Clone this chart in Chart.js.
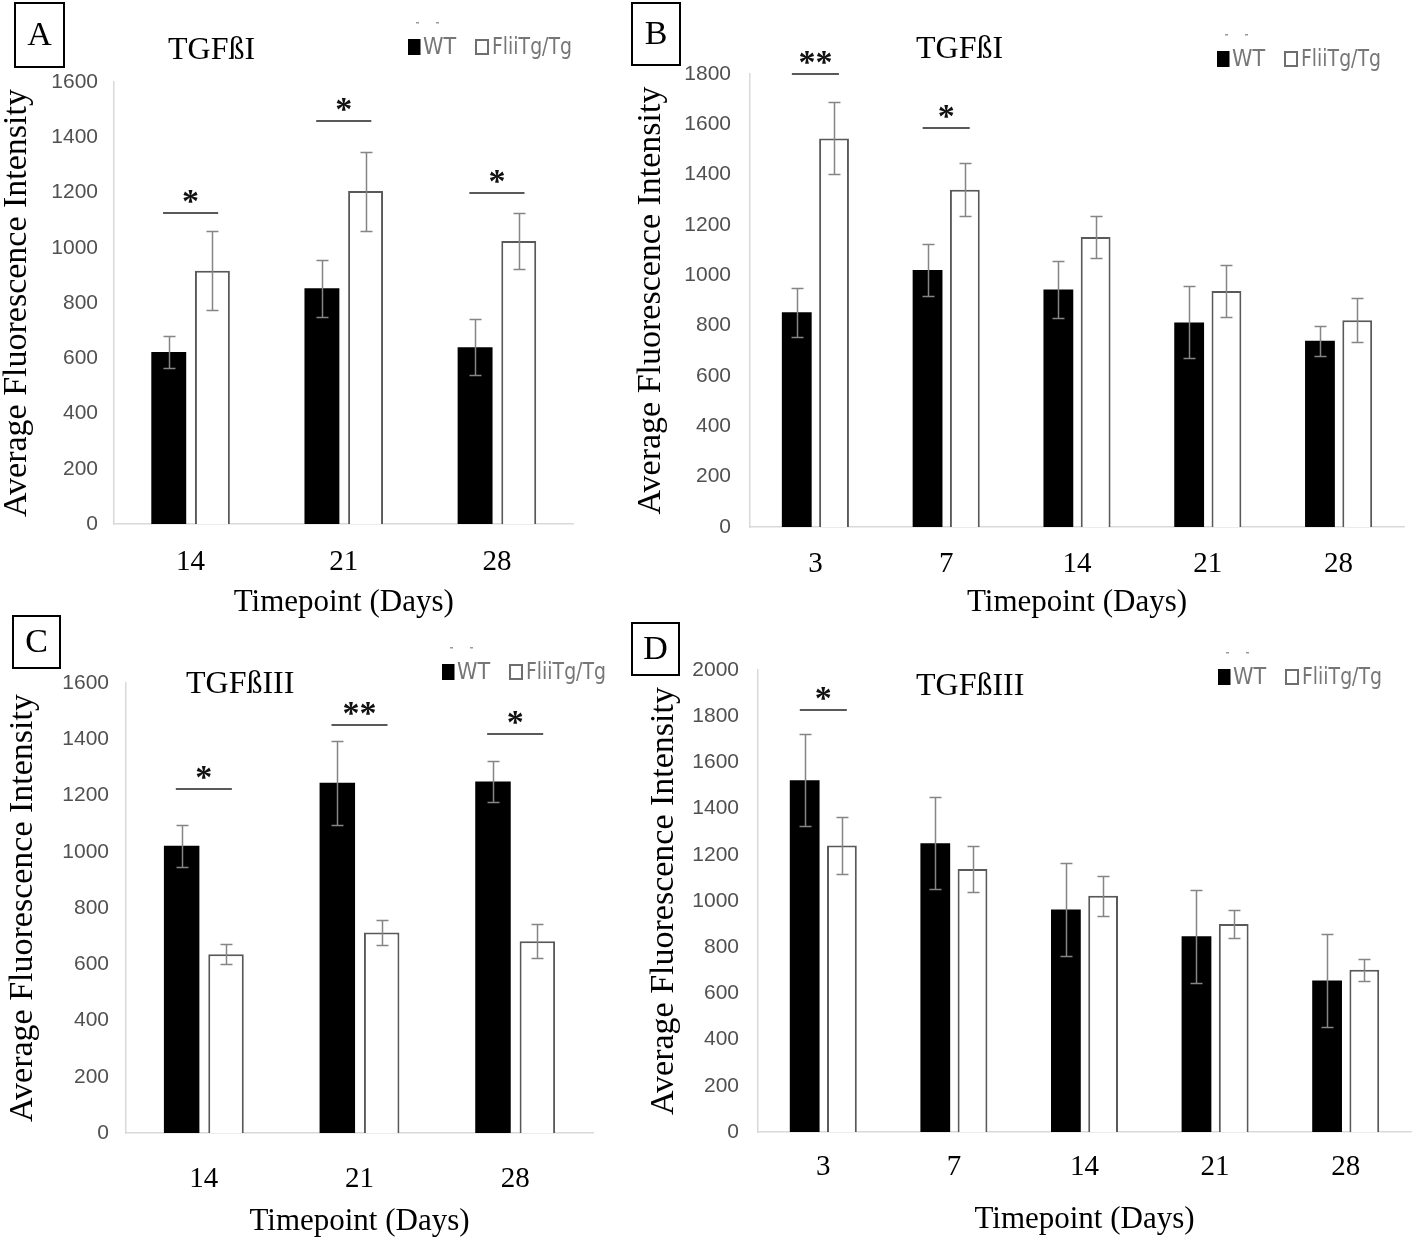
<!DOCTYPE html>
<html>
<head>
<meta charset="utf-8">
<script src="https://cdn.jsdelivr.net/npm/chart.js@4.4.1/dist/chart.umd.min.js"></script>
<style>
  html, body { margin: 0; padding: 0; background: #fff; }
  body { position: relative; width: 1418px; height: 1238px; overflow: hidden; }
  canvas { position: absolute; }
</style>
</head>
<body>
<canvas id="cA" width="630" height="620" style="left:0;top:0"></canvas>
<canvas id="cB" width="788" height="620" style="left:630px;top:0"></canvas>
<canvas id="cC" width="630" height="632" style="left:0;top:606px"></canvas>
<canvas id="cD" width="788" height="632" style="left:630px;top:606px"></canvas>
<script>
  // ---------- data ----------
  var daysShort = ["14", "21", "28"];
  var daysLong = ["3", "7", "14", "21", "28"];

  // A: TGFβI, days 14-28
  var wtA = [623, 853, 640], wtErrA = [57, 104, 102];
  var fliA = [917, 1205, 1024], fliErrA = [142, 143, 100];
  var sigA = [[0, 1125, "*"], [1, 1460, "*"], [2, 1198, "*"]];

  // B: TGFβI, days 3-28
  var wtB = [853, 1021, 944, 813, 740], wtErrB = [98, 105, 113, 143, 59];
  var fliB = [1544, 1340, 1152, 938, 822], fliErrB = [143, 106, 85, 102, 86];
  var sigB = [[0, 1800, "**"], [1, 1587, "*"]];

  // C: TGFβIII, days 14-28
  var wtC = [1021, 1245, 1250], wtErrC = [74, 150, 73];
  var fliC = [636, 713, 682], fliErrC = [35, 45, 60];
  var sigC = [[0, 1222, "*"], [1, 1450, "**"], [2, 1418, "*"]];

  // D: TGFβIII, days 3-28
  var wtD = [1523, 1250, 963, 847, 656], wtErrD = [200, 200, 200, 200, 200];
  var fliD = [1240, 1139, 1023, 900, 702], fliErrD = [123, 98, 87, 60, 47];
  var sigD = [[0, 1828, "*"]];

  var yMax = { A: 1600, B: 1800, C: 1600, D: 2000 };
  var yStep = 200;
  var seriesNames = ["WT", "FliiTg/Tg"];

  var SERIF = '"Liberation Serif", "Times New Roman", serif';
  var SANS = '"Liberation Sans", Arial, sans-serif';
  var NARROW = '"Liberation Sans Narrow", "DejaVu Sans Condensed", "Liberation Sans", sans-serif';

  /* ---------- decorations: error bars, significance, label box, title, legend ---------- */
  var extras = {
    id: "extras",
    afterDatasetsDraw: function (chart, args, o) {
      var ctx = chart.ctx, xs = chart.scales.x, ys = chart.scales.y;
      ctx.save();
      ctx.strokeStyle = "#858585";
      ctx.lineWidth = 1.5;
      o.errors.forEach(function (errs, di) {
        var vals = chart.data.datasets[di].data;
        chart.getDatasetMeta(di).data.forEach(function (bar, i) {
          var t = Math.round(ys.getPixelForValue(vals[i] + errs[i])) + 0.5;
          var b = Math.round(ys.getPixelForValue(vals[i] - errs[i])) + 0.5;
          var bx = Math.round(bar.x) + 0.5;
          ctx.beginPath();
          ctx.moveTo(bx, t); ctx.lineTo(bx, b);
          ctx.moveTo(bx - 6, t); ctx.lineTo(bx + 6, t);
          ctx.moveTo(bx - 6, b); ctx.lineTo(bx + 6, b);
          ctx.stroke();
        });
      });
      var half = (xs.width / chart.data.labels.length) * 0.18;
      o.sig.forEach(function (s) {
        var cx = xs.getPixelForValue(s[0]), ly = Math.round(ys.getPixelForValue(s[1]));
        ctx.strokeStyle = "#595959";
        ctx.lineWidth = 2;
        ctx.beginPath();
        ctx.moveTo(cx - half, ly); ctx.lineTo(cx + half, ly);
        ctx.stroke();
        ctx.fillStyle = "#111";
        ctx.font = "bold 34px " + SERIF;
        ctx.textAlign = "center";
        ctx.textBaseline = "alphabetic";
        ctx.fillText(s[2], cx, ly - 1);
      });
      ctx.restore();
    },
    afterDraw: function (chart, args, o) {
      var ctx = chart.ctx;
      ctx.save();
      // panel letter in a box
      ctx.strokeStyle = "#000";
      ctx.lineWidth = 2;
      ctx.strokeRect(o.box[0], o.box[1], o.box[2], o.box[3]);
      ctx.fillStyle = "#000";
      ctx.font = "34px " + SERIF;
      ctx.textAlign = "center";
      ctx.textBaseline = "middle";
      ctx.fillText(o.letter, o.box[0] + o.box[2] / 2, o.box[1] + o.box[3] / 2 + 1);
      // panel title
      ctx.font = "32px " + SERIF;
      ctx.textAlign = "left";
      ctx.fillText(o.title, o.titlePos[0], o.titlePos[1]);
      // legend
      var lx = o.legend[0], cy = o.legend[1];
      ctx.fillStyle = "#000";
      ctx.fillRect(lx, cy - 8, 12.5, 16);
      ctx.strokeStyle = "#6e6e6e";
      ctx.lineWidth = 2;
      ctx.strokeRect(lx + 68, cy - 7, 12, 14);
      ctx.fillStyle = "#767676";
      ctx.font = "23px " + NARROW;
      ctx.textBaseline = "middle";
      ctx.fillText(seriesNames[0], lx + 15, cy + 1);
      ctx.fillText(seriesNames[1], lx + 84, cy + 1, 80);
      // two tiny marks above the legend
      ctx.fillStyle = "#9a9a9a";
      ctx.fillRect(lx + 8, cy - 25, 3, 1.5);
      ctx.fillRect(lx + 28, cy - 25, 3, 1.5);
      ctx.restore();
    }
  };

  function panel(id, p) {
    var cv = document.getElementById(id);
    var W = cv.width, H = cv.height;
    return new Chart(cv, {
      type: "bar",
      data: {
        labels: p.labels,
        datasets: [
          { label: seriesNames[0], data: p.wt, backgroundColor: "#000", borderWidth: 0,
            categoryPercentage: 0.57, barPercentage: 0.8 },
          { label: seriesNames[1], data: p.fli, backgroundColor: "#fff", borderColor: "#595959",
            borderWidth: 2, categoryPercentage: 0.57, barPercentage: 0.8 }
        ]
      },
      options: {
        responsive: false, animation: false, devicePixelRatio: 1,
        layout: { padding: { left: 0, top: p.area[1], right: W - p.area[2], bottom: 0 } },
        plugins: {
          legend: { display: false }, tooltip: { enabled: false },
          extras: { errors: [p.wtErr, p.fliErr], sig: p.sig, box: p.box, letter: p.letter,
                    title: p.title, titlePos: p.titlePos, legend: p.legend }
        },
        scales: {
          x: {
            grid: { display: false, drawTicks: false },
            border: { display: true, color: "#d9d9d9", width: 1.5 },
            ticks: { color: "#000", font: { family: SERIF, size: 29 }, padding: p.xPad },
            title: { display: true, text: "Timepoint (Days)", color: "#000",
                     font: { family: SERIF, size: 31, lineHeight: 1 }, padding: { top: 0, bottom: p.xTitlePad } },
            afterFit: function (s) { s.height = H - p.area[3]; }
          },
          y: {
            min: 0, max: p.max,
            grid: { display: false, drawTicks: false },
            border: { display: true, color: "#d9d9d9", width: 1.5 },
            ticks: { stepSize: yStep, color: "#505050", font: { family: SANS, size: 21 }, padding: p.yPad,
                     callback: function (v) { return String(v); } },
            title: { display: true, text: "Average Fluorescence Intensity", color: "#000",
                     font: { family: SERIF, size: 34, lineHeight: 1 }, padding: { top: p.yTitlePad, bottom: 0 } },
            afterFit: function (s) { s.width = p.area[0]; }
          }
        }
      },
      plugins: [extras]
    });
  }

  panel("cA", { labels: daysShort, wt: wtA, wtErr: wtErrA, fli: fliA, fliErr: fliErrA, sig: sigA, max: yMax.A,
    area: [114, 82, 573.5, 524], xPad: 21, yPad: 16, xTitlePad: 2, yTitlePad: 0.5,
    box: [15, 3, 49, 64], letter: "A", title: "TGFßI", titlePos: [168, 51], legend: [408, 47] });

  panel("cB", { labels: daysLong, wt: wtB, wtErr: wtErrB, fli: fliB, fliErr: fliErrB, sig: sigB, max: yMax.B,
    area: [120, 74, 774, 527], xPad: 20, yPad: 19, xTitlePad: 1.5, yTitlePad: 4,
    box: [2, 3, 48, 62], letter: "B", title: "TGFßI", titlePos: [286, 50], legend: [587, 59] });

  panel("cC", { labels: daysShort, wt: wtC, wtErr: wtErrC, fli: fliC, fliErr: fliErrC, sig: sigC, max: yMax.C,
    area: [126, 77, 593, 527], xPad: 29, yPad: 17, xTitlePad: 1, yTitlePad: 6,
    box: [13, 10, 47, 52], letter: "C", title: "TGFßIII", titlePos: [186, 79], legend: [442, 66] });

  panel("cD", { labels: daysLong, wt: wtD, wtErr: wtErrD, fli: fliD, fliErr: fliErrD, sig: sigD, max: yMax.D,
    area: [128, 64, 781, 526], xPad: 18, yPad: 19, xTitlePad: 3, yTitlePad: 17,
    box: [2, 17, 47, 52], letter: "D", title: "TGFßIII", titlePos: [286, 81], legend: [588, 71] });
</script>
</body>
</html>
